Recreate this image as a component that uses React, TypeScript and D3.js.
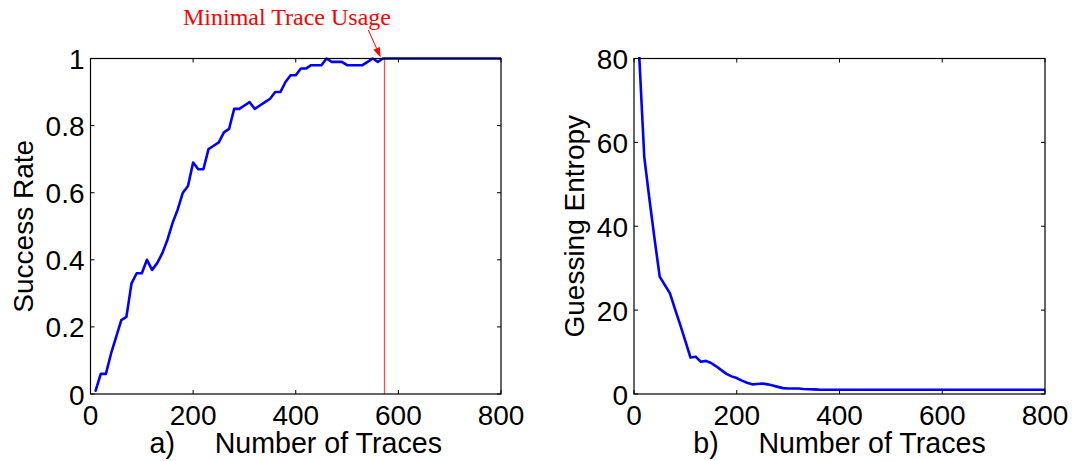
import React from "react";
import * as d3 from "d3";

// ---------- data ----------
const TRACES = [
  10, 20, 30, 40, 50, 60, 70, 80, 90, 100,
  110, 120, 130, 140, 150, 160, 170, 180, 190, 200,
  210, 220, 230, 240, 250, 260, 270, 280, 290, 300,
  310, 320, 330, 340, 350, 360, 370, 380, 390, 400,
  410, 420, 430, 440, 450, 460, 470, 480, 490, 500,
  510, 520, 530, 540, 550, 560, 570, 580, 590, 600,
  610, 620, 630, 640, 650, 660, 670, 680, 690, 700,
  710, 720, 730, 740, 750, 760, 770, 780, 790, 800,
];

const SUCCESS_RATE = [
  0.01, 0.06, 0.06, 0.12, 0.17, 0.22, 0.23, 0.33, 0.36, 0.36,
  0.40, 0.37, 0.39, 0.42, 0.46, 0.51, 0.55, 0.60, 0.62, 0.69,
  0.67, 0.67, 0.73, 0.74, 0.75, 0.78, 0.79, 0.85, 0.85, 0.86,
  0.87, 0.85, 0.86, 0.87, 0.88, 0.90, 0.90, 0.93, 0.95, 0.95,
  0.97, 0.97, 0.98, 0.98, 0.98, 1.0, 0.99, 0.99, 0.99, 0.98,
  0.98, 0.98, 0.98, 0.99, 1.0, 0.99, 1.0, 1.0, 1.0, 1.0,
  1.0, 1.0, 1.0, 1.0, 1.0, 1.0, 1.0, 1.0, 1.0, 1.0,
  1.0, 1.0, 1.0, 1.0, 1.0, 1.0, 1.0, 1.0, 1.0, 1.0,
];

const GUESSING_ENTROPY = [
  81, 56.5, 46.5, 37, 28, 26, 24, 20.2, 16.5, 12.6,
  8.7, 8.9, 7.7, 7.9, 7.4, 6.6, 5.7, 4.8, 4.2, 3.8,
  3.2, 2.7, 2.3, 2.4, 2.5, 2.3, 2.0, 1.7, 1.4, 1.3,
  1.3, 1.3, 1.2, 1.15, 1.1, 1.05, 1.03, 1.0, 1.0, 1.0,
  1.0, 1.0, 1.0, 1.0, 1.0, 1.0, 1.0, 1.0, 1.0, 1.0,
  1.0, 1.0, 1.0, 1.0, 1.0, 1.0, 1.0, 1.0, 1.0, 1.0,
  1.0, 1.0, 1.0, 1.0, 1.0, 1.0, 1.0, 1.0, 1.0, 1.0,
  1.0, 1.0, 1.0, 1.0, 1.0, 1.0, 1.0, 1.0, 1.0, 1.0,
];

const X_TICKS = [0, 200, 400, 600, 800];
const X_TICK_LABELS = ["0", "200", "400", "600", "800"];
const SR_TICKS = [0, 0.2, 0.4, 0.6, 0.8, 1];
const SR_TICK_LABELS = ["0", "0.2", "0.4", "0.6", "0.8", "1"];
const GE_TICKS = [0, 20, 40, 60, 80];
const GE_TICK_LABELS = ["0", "20", "40", "60", "80"];

const MIN_TRACE = 573;
const ANNOTATION = "Minimal Trace Usage";

// ---------- layout ----------
const W = 1072;
const H = 461;
const SANS = "'Liberation Sans', Arial, Helvetica, sans-serif";
const SERIF = "'Liberation Serif', 'Times New Roman', serif";
const FS = 28;
const TICK = 4;

type PanelProps = {
  id: string;
  left: number;
  right: number;
  top: number;
  bottom: number;
  yDomain: [number, number];
  yTicks: number[];
  yTickLabels: string[];
  values: number[];
  yLabel: string;
  yLabelX: number;
  prefix: string;
  children?: (x: d3.ScaleLinear<number, number>, y: d3.ScaleLinear<number, number>) => React.ReactNode;
};

function Panel(p: PanelProps) {
  const x = d3.scaleLinear().domain([0, 800]).range([p.left, p.right]);
  const y = d3.scaleLinear().domain(p.yDomain).range([p.bottom, p.top]);
  const line = d3
    .line<number>()
    .x((_, i) => x(TRACES[i]))
    .y((d) => y(d));
  const cx = (p.left + p.right) / 2;
  const cy = (p.top + p.bottom) / 2;
  return (
    <g>
      <defs>
        <clipPath id={`clip-${p.id}`}>
          <rect x={p.left} y={p.top - 1.5} width={p.right - p.left} height={p.bottom - p.top + 1.5} />
        </clipPath>
      </defs>
      {p.children && p.children(x, y)}
      <path
        d={line(p.values) || ""}
        fill="none"
        stroke="#0000ff"
        strokeWidth={2.6}
        strokeLinejoin="round"
        strokeLinecap="round"
        clipPath={`url(#clip-${p.id})`}
      />
      {/* box */}
      <rect
        x={p.left}
        y={p.top}
        width={p.right - p.left}
        height={p.bottom - p.top}
        fill="none"
        stroke="#000"
        strokeWidth={1.2}
      />
      {/* x ticks */}
      {X_TICKS.map((t, i) => (
        <g key={`xt${i}`}>
          <line x1={x(t)} x2={x(t)} y1={p.bottom} y2={p.bottom - TICK} stroke="#000" strokeWidth={1} />
          <line x1={x(t)} x2={x(t)} y1={p.top} y2={p.top + TICK} stroke="#000" strokeWidth={1} />
          <text
            x={x(t)}
            y={p.bottom + 31}
            textAnchor="middle"
            fontFamily={SANS}
            fontSize={FS}
            fill="#000"
          >
            {X_TICK_LABELS[i]}
          </text>
        </g>
      ))}
      {/* y ticks */}
      {p.yTicks.map((t, i) => (
        <g key={`yt${i}`}>
          <line x1={p.left} x2={p.left + TICK} y1={y(t)} y2={y(t)} stroke="#000" strokeWidth={1} />
          <line x1={p.right} x2={p.right - TICK} y1={y(t)} y2={y(t)} stroke="#000" strokeWidth={1} />
          <text
            x={p.left - 6}
            y={y(t) + 10.5}
            textAnchor="end"
            fontFamily={SANS}
            fontSize={FS}
            fill="#000"
          >
            {p.yTickLabels[i]}
          </text>
        </g>
      ))}
      {/* x label */}
      <text
        x={cx}
        y={p.bottom + 59}
        textAnchor="middle"
        fontFamily={SANS}
        fontSize={28.6}
        fill="#000"
        style={{ whiteSpace: "pre" }}
        xmlSpace="preserve"
      >
        {`${p.prefix}     Number of Traces`}
      </text>
      {/* y label */}
      <text
        transform={`translate(${p.yLabelX},${cy}) rotate(-90)`}
        textAnchor="middle"
        fontFamily={SANS}
        fontSize={FS}
        fill="#000"
      >
        {p.yLabel}
      </text>
    </g>
  );
}

export default function App() {
  const arrowStart: [number, number] = [368.3, 30];
  const arrowEnd: [number, number] = [380.7, 57.5];
  const dx = arrowEnd[0] - arrowStart[0];
  const dy = arrowEnd[1] - arrowStart[1];
  const len = Math.hypot(dx, dy);
  const ux = dx / len;
  const uy = dy / len;
  const headL = 10;
  const headW = 3.5;
  const bx = arrowEnd[0] - ux * headL;
  const by = arrowEnd[1] - uy * headL;
  const head = `${arrowEnd[0]},${arrowEnd[1]} ${bx - uy * headW},${by + ux * headW} ${bx + uy * headW},${by - ux * headW}`;

  return (
    <svg
      width={W}
      height={H}
      viewBox={`0 0 ${W} ${H}`}
      style={{ position: "absolute", left: 0, top: 0, background: "#fff" }}
    >
      <rect x={0} y={0} width={W} height={H} fill="#fff" />
      <Panel
        id="sr"
        left={90.5}
        right={501}
        top={58.5}
        bottom={394}
        yDomain={[0, 1]}
        yTicks={SR_TICKS}
        yTickLabels={SR_TICK_LABELS}
        values={SUCCESS_RATE}
        yLabel="Success Rate"
        yLabelX={33}
        prefix="a)"
      >
        {(x, y) => (
          <line
            x1={x(MIN_TRACE)}
            x2={x(MIN_TRACE)}
            y1={y(1)}
            y2={y(0)}
            stroke="#ff4d4d"
            strokeWidth={1.3}
          />
        )}
      </Panel>
      <Panel
        id="ge"
        left={634}
        right={1045}
        top={58.5}
        bottom={394}
        yDomain={[0, 80]}
        yTicks={GE_TICKS}
        yTickLabels={GE_TICK_LABELS}
        values={GUESSING_ENTROPY}
        yLabel="Guessing Entropy"
        yLabelX={584}
        prefix="b)"
      />
      {/* annotation */}
      <text x={287} y={25} textAnchor="middle" fontFamily={SERIF} fontSize={24} fill="#ff0000">
        {ANNOTATION}
      </text>
      <line x1={arrowStart[0]} y1={arrowStart[1]} x2={bx} y2={by} stroke="#ff0000" strokeWidth={1} />
      <polygon points={head} fill="#ff0000" />
    </svg>
  );
}
